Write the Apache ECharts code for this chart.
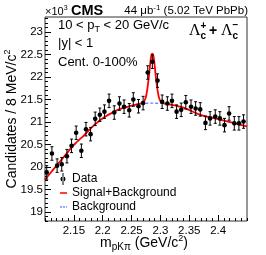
<!DOCTYPE html>
<html><head><meta charset="utf-8">
<script src="https://cdn.jsdelivr.net/npm/echarts@6/dist/echarts.min.js"></script>
<style>html,body{margin:0;padding:0;background:#fff}#c{width:266px;height:255px}</style>
</head><body><div id="c"></div>
<script>
// Data points (mass in GeV/c^2, candidates in units of 10^3)
const massX = [2.103,2.112,2.121,2.129,2.138,2.146,2.154,2.163,2.171,2.179,2.187,2.195,2.203,2.211,2.220,2.229,2.237,2.246,2.253,2.262,2.270,2.278,2.286,2.295,2.303,2.312,2.320,2.328,2.336,2.344,2.353,2.361,2.369,2.378,2.386,2.395,2.403,2.411,2.419,2.428,2.436,2.444];
const counts = [19.88,20.30,20.03,20.06,20.24,20.47,20.76,20.36,20.84,20.73,21.07,21.16,21.23,21.47,21.21,21.41,21.34,21.26,21.50,21.35,21.42,22.10,22.34,21.92,21.45,21.41,21.47,21.23,21.27,21.44,21.34,21.30,21.28,20.98,21.08,21.12,21.08,20.93,21.19,20.97,20.97,21.01];
const countErr = [0.15,0.15,0.15,0.15,0.15,0.15,0.15,0.15,0.15,0.15,0.15,0.15,0.15,0.15,0.15,0.15,0.15,0.15,0.15,0.15,0.15,0.15,0.15,0.15,0.15,0.15,0.15,0.15,0.15,0.15,0.15,0.15,0.15,0.15,0.15,0.15,0.15,0.15,0.15,0.15,0.15,0.15];
// Signal+Background fit curve
const sbX = [2.100,2.116,2.133,2.150,2.168,2.185,2.202,2.220,2.230,2.247,2.262,2.270,2.274,2.277,2.280,2.282,2.284,2.286,2.288,2.290,2.292,2.295,2.298,2.302,2.311,2.328,2.340,2.369,2.398,2.426,2.450];
const sbY = [19.72,19.97,20.23,20.49,20.71,20.93,21.10,21.23,21.29,21.35,21.40,21.43,21.52,21.71,22.01,22.26,22.46,22.52,22.46,22.26,22.01,21.71,21.52,21.43,21.40,21.36,21.32,21.16,21.07,20.98,20.90];
// Background curve
const bgX = [2.100,2.133,2.168,2.202,2.230,2.262,2.286,2.311,2.340,2.369,2.398,2.450];
const bgY = [19.72,20.23,20.71,21.10,21.29,21.40,21.42,21.40,21.32,21.16,21.07,20.90];
// Tick labels
const xTickLabels = [2.15,2.2,2.25,2.3,2.35,2.4];
const yTickLabels = [19,19.5,20,20.5,21,21.5,22,22.5,23];

const X_MIN = 2.1, X_MAX = 2.45, Y_MIN = 18.8, Y_MAX = 23.333;
const xMinor = []; for (let i = 0; i <= 35; i++) xMinor.push(+(2.1 + i*0.01).toFixed(3));
const yMinor = []; for (let i = 0; i <= 45; i++) yMinor.push(+(18.8 + i*0.1).toFixed(2));

const FF = 'Liberation Sans, Arial, Helvetica, sans-serif';
const SERIF = 'Liberation Serif, Times New Roman, serif';
const chart = echarts.init(document.getElementById('c'), null, {renderer: 'canvas'});

function xAx(major) {
  return {
    type: 'value', min: X_MIN, max: X_MAX, position: 'bottom',
    axisLine: {show: false},
    splitLine: {show: false},
    axisTick: {show: true, inside: true, length: major ? 6 : 3, customValues: major ? xTickLabels : xMinor, lineStyle: {color: '#000', width: 1}},
    axisLabel: major ? {show: true, customValues: xTickLabels, margin: 4, color: '#000', fontSize: 11.5, fontFamily: FF, formatter: v => String(+v.toFixed(2))} : {show: false}
  };
}
function yAx(major) {
  return {
    type: 'value', min: Y_MIN, max: Y_MAX, position: 'left',
    axisLine: {show: false},
    splitLine: {show: false},
    axisTick: {show: true, inside: true, length: major ? 6 : 3, customValues: major ? yTickLabels : yMinor, lineStyle: {color: '#000', width: 1}},
    axisLabel: major ? {show: true, customValues: yTickLabels, margin: 2, color: '#000', fontSize: 11.5, fontFamily: FF, formatter: v => String(+v.toFixed(1))} : {show: false}
  };
}

function txt(x, y, text, size, opts) {
  opts = opts || {};
  const r = opts.rich || {
    sub: {fontSize: Math.round(size*0.68), lineHeight: Math.round(size*0.68), verticalAlign: 'bottom', fontFamily: FF},
    sup: {fontSize: Math.round(size*0.68), lineHeight: Math.round(size*0.68), verticalAlign: 'top', fontFamily: FF}
  };
  return {
    type: 'text', x: x, y: y, rotation: opts.rot || 0, z: 100,
    style: {
      text: text, fill: '#000', fontSize: size, fontFamily: opts.family || FF,
      fontWeight: opts.weight || 'normal',
      align: opts.align || 'left', verticalAlign: 'middle',
      lineHeight: opts.lh || Math.round(size * 1.3),
      rich: r
    }
  };
}

const option = {
  animation: false,
  backgroundColor: '#fff',
  grid: {left: 45, right: 19, top: 17, bottom: 34, show: true, borderColor: '#333', borderWidth: 1, backgroundColor: 'transparent'},
  xAxis: [xAx(true), xAx(false)],
  yAxis: [yAx(true), yAx(false)],
  legend: {
    orient: 'vertical', left: 54, top: 168, itemWidth: 8, itemHeight: 12, itemGap: 2,
    textStyle: {color: '#000', fontSize: 12, fontFamily: FF, lineHeight: 12},
    data: [
      {name: 'Data', icon: 'path://M3.5,0h1v12h-1z M4,3.5a2.5,2.5 0 1,0 0.001,0z'},
      {name: 'Signal+Background', icon: 'path://M0,0h0.01v0.01h-0.01z M7.99,11.99h0.01v0.01h-0.01z M1,5.2h7v1.6h-7z'},
      {name: 'Background', icon: 'path://M0,0h0.01v0.01h-0.01z M7.99,11.99h0.01v0.01h-0.01z M1,5.5h2v1h-2z M4,5.5h2v1h-2z M7,5.5h1v1h-1z'}
    ]
  },
  series: [
    {
      name: 'Background', type: 'line', symbol: 'none', smooth: 0.3, z: 2,
      data: bgX.map((x, i) => [x, bgY[i]]),
      lineStyle: {color: '#3355ff', width: 1, type: [3, 2]},
      itemStyle: {color: '#3355ff'}
    },
    {
      name: 'Signal+Background', type: 'line', symbol: 'none', smooth: 0.25, z: 3,
      data: sbX.map((x, i) => [x, sbY[i]]),
      lineStyle: {color: '#ff0000', width: 1.8},
      itemStyle: {color: '#ff0000'}
    },
    {
      name: 'Data', type: 'custom', z: 4,
      itemStyle: {color: '#000'},
      data: massX.map((x, i) => [x, counts[i], countErr[i]]),
      encode: {x: 0, y: 1},
      renderItem: function (params, api) {
        const x = api.value(0), y = api.value(1), e = api.value(2);
        const p = api.coord([x, y]);
        const t = api.coord([x, y + e]);
        const b = api.coord([x, y - e]);
        const s = {stroke: '#000', lineWidth: 1};
        return {type: 'group', children: [
          {type: 'line', shape: {x1: p[0], y1: t[1], x2: p[0], y2: b[1]}, style: s},
          {type: 'line', shape: {x1: p[0]-1.5, y1: t[1], x2: p[0]+1.5, y2: t[1]}, style: s},
          {type: 'line', shape: {x1: p[0]-1.5, y1: b[1], x2: p[0]+1.5, y2: b[1]}, style: s},
          {type: 'circle', shape: {cx: p[0], cy: p[1], r: 2.3}, style: {fill: '#000'}}
        ]};
      }
    }
  ],
  graphic: [
    txt(45, 12, '\u00d710{sup|3}', 11),
    txt(71, 11, 'CMS', 14.5, {weight: 'bold'}),
    txt(248, 11, '44 \u03bcb{sup|-1} (5.02 TeV PbPb)', 11.5, {align: 'right'}),
    txt(58, 25, '10 < p{sub|T} < 20 GeV/c', 13, {lh: 18}),
    txt(58, 43, '|y| < 1', 13),
    txt(58, 62, 'Cent. 0-100%', 13),
    // Lambda_c^+ + Lambda_c^-
    txt(189, 31, '\u039b', 16, {family: SERIF}),
    txt(200.5, 36, 'c', 10, {weight: 'bold'}),
    txt(200.5, 26, '+', 10, {weight: 'bold'}),
    txt(213, 31.5, '+', 14, {weight: 'bold', align: 'center'}),
    txt(221, 31, '\u039b', 16, {family: SERIF}),
    txt(232.5, 36, 'c', 10, {weight: 'bold'}),
    txt(232.5, 25.5, '\u2212', 10, {weight: 'bold'}),
    // axis titles
    txt(144, 243, 'm{sub|pK\u03c0} (GeV/c{sup|2})', 14, {align: 'center', lh: 18, rich: {
      sub: {fontSize: 10, lineHeight: 10, verticalAlign: 'bottom', fontFamily: FF},
      sup: {fontSize: 9, lineHeight: 9, verticalAlign: 'top', fontFamily: FF}}}),
    txt(12, 119, 'Candidates / 8 MeV/c{sup|2}', 14, {align: 'center', rot: Math.PI/2, lh: 18, rich: {
      sup: {fontSize: 9, lineHeight: 9, verticalAlign: 'top', fontFamily: FF}}})
  ]
};
chart.setOption(option);
</script>
</body></html>
